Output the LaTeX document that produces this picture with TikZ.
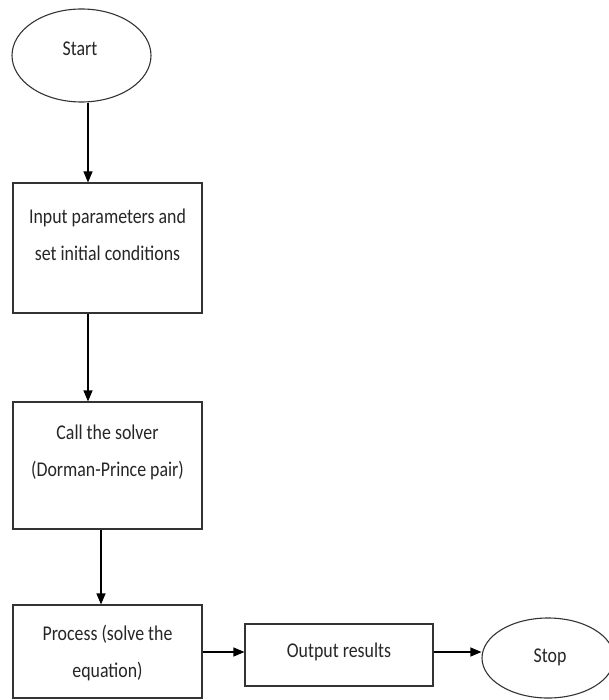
\documentclass[tikz,border=0pt]{standalone}
\usepackage{fontspec}
\setmainfont{Carlito}[FakeStretch=0.85]
\usetikzlibrary{shapes.geometric,arrows.meta}
\begin{document}
\begin{tikzpicture}[x=1pt,y=-1pt,
  box/.style={draw=black!80, line width=1.1pt, rectangle, inner sep=0pt},
  oval/.style={draw=black!80, line width=1.1pt, ellipse, inner sep=0pt},
  txt/.style={font=\fontsize{21}{37}\selectfont, align=center, text=black!85, inner sep=0pt},
  arr/.style={line width=1.1pt, -{Triangle[length=11pt,width=9pt]}}]
\useasboundingbox (0,0) rectangle (609,700);
% shapes
\node[oval, minimum width=139pt, minimum height=93pt] (start) at (81.5,55.5) {};
\node[txt] (starttext) at (80,49) {Start};
\node[box, minimum width=189pt, minimum height=130pt] (b1) at (107.5,248) {};
\node[txt] (b1text) at (107.5,235) {Input parameters and\\set initial conditions};
\node[box, minimum width=189pt, minimum height=127pt] (b2) at (107.5,465.5) {};
\node[txt] (b2text) at (107.5,452.5) {Call the solver\\(Dorman-Prince pair)};
\node[box, minimum width=189pt, minimum height=93pt] (b3) at (107.5,651.5) {};
\node[txt] (b3text) at (107.5,653.5) {Process (solve the\\equation)};
\node[box, minimum width=188pt, minimum height=62pt] (b4) at (339,655) {};
\node[txt] (b4text) at (339,652) {Output results};
\node[oval, minimum width=132pt, minimum height=80pt] (stop) at (548,658) {};
\node[txt] (stoptext) at (550,657) {Stop};
% connector guides
\coordinate (x1) at (88,0);
\coordinate (x3) at (101,0);
\coordinate (y4) at (0,652);
% connectors
\draw[arr] (start.south -| x1) -- (b1.north -| x1);
\draw[arr] (b1.south -| x1) -- (b2.north -| x1);
\draw[arr] (b2.south -| x3) -- (b3.north -| x3);
\draw[arr] (b3.east |- y4) -- (b4.west |- y4);
\draw[arr] (b4.east |- y4) -- (stop.west |- y4);
\end{tikzpicture}
\end{document}
